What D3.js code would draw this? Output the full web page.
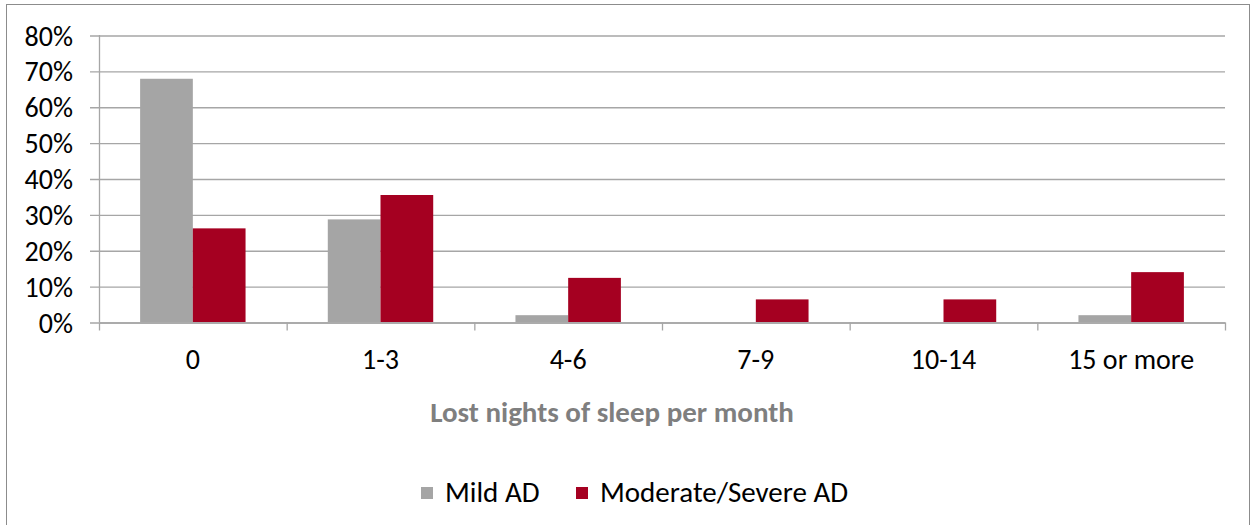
<!DOCTYPE html>
<head>
 <script src="https://cdnjs.cloudflare.com/ajax/libs/d3/7.8.5/d3.min.js"></script>
 <title>Lost nights of sleep</title>
</head>

<style>
body{
  margin: 0;
  background-color: white;
}
text{
  font-family: Carlito, Calibri, Lato, "Open Sans", sans-serif;
}
</style>

<body>
 <div id="chart"></div>
</body>

<script type="text/javascript">
 var categories = ["0", "1-3", "4-6", "7-9", "10-14", "15 or more"];
 var series = ["Mild AD", "Moderate/Severe AD"];
 var mild = [67.8, 28.6, 1.9, 0, 0, 1.9];
 var severe = [26.1, 35.4, 12.3, 6.3, 6.3, 13.9];
 var yTicks = [0, 10, 20, 30, 40, 50, 60, 70, 80];
 var colors = ["#A5A5A5", "#A50021"];

 var props = {
   width: 1253,
   height: 525,
   left: 99,
   right: 1225,
   top: 35,
   bottom: 322,
   fontSize: "28px"
 }

 var svg = d3.select("#chart").append("svg")
   .attr("width", props.width).attr("height", props.height);

 // outer chart border
 svg.append("rect")
   .attr("x", 6.5).attr("y", 4.5)
   .attr("width", 1243).attr("height", 530)
   .attr("fill", "none").attr("stroke", "#8c8c8c").attr("stroke-width", 1);

 var x = d3.scaleBand().domain(categories).range([props.left, props.right]).paddingInner(0).paddingOuter(0);
 var y = d3.scaleLinear().domain([0, 80]).range([props.bottom, props.top]);

 // gridlines + y labels
 var yAxis = d3.axisLeft(y).tickValues(yTicks).tickFormat(function(d){ return d + "%"; })
   .tickSize(-(props.right - props.left) - 9);
 var gy = svg.append("g").attr("transform", "translate(" + (props.left - 9) + ",0)").call(yAxis);
 gy.select(".domain").remove();
 gy.selectAll(".tick line").attr("stroke", "#a6a6a6").attr("stroke-width", 1.3)
   .attr("transform", "translate(0,0.5)");
 gy.selectAll(".tick text").attr("font-size", props.fontSize).attr("fill", "#000").attr("x", -17).attr("dy", "0.36em");

 // y axis line
 svg.append("line")
   .attr("x1", props.left + 0.5).attr("x2", props.left + 0.5)
   .attr("y1", props.top).attr("y2", props.bottom)
   .attr("stroke", "#a6a6a6").attr("stroke-width", 1.3);

 // bars
 var inner = d3.scaleBand().domain(series).range([0, x.bandwidth()]).paddingOuter(0.78).paddingInner(0);
 var data = categories.map(function(c, i){ return {cat: c, vals: [mild[i], severe[i]]}; });
 var groups = svg.selectAll("g.cat").data(data).enter().append("g")
   .attr("class", "cat")
   .attr("transform", function(d){ return "translate(" + x(d.cat) + ",0)"; });
 groups.selectAll("rect").data(function(d){ return d.vals.map(function(v, j){ return {s: series[j], v: v, j: j}; }); })
   .enter().append("rect")
   .attr("x", function(d){ return inner(d.s); })
   .attr("width", inner.bandwidth())
   .attr("y", function(d){ return y(d.v); })
   .attr("height", function(d){ return y(0) - y(d.v); })
   .attr("fill", function(d){ return colors[d.j]; });

 // x axis
 var xAxis = d3.axisBottom(x).tickSize(0).tickPadding(0);
 var gx = svg.append("g").attr("transform", "translate(0," + (props.bottom + 0.5) + ")").call(xAxis);
 gx.select(".domain").attr("stroke", "#a6a6a6").attr("stroke-width", 1.3);
 gx.selectAll(".tick text").attr("font-size", props.fontSize).attr("fill", "#000")
   .attr("y", 36).attr("dy", "0.36em");
 var bounds = categories.map(function(c){ return x(c); }).concat([props.right]);
 gx.selectAll("line.sep").data(bounds).enter().append("line")
   .attr("class", "sep")
   .attr("x1", function(d){ return d + 0.5; }).attr("x2", function(d){ return d + 0.5; })
   .attr("y1", 0).attr("y2", 8)
   .attr("stroke", "#a6a6a6").attr("stroke-width", 1.3);

 // axis title
 svg.append("text")
   .attr("x", 612).attr("y", 412).attr("dy", "0.36em")
   .attr("text-anchor", "middle")
   .attr("font-size", "29px").attr("font-weight", "bold").attr("fill", "#7f7f7f")
   .text("Lost nights of sleep per month");

 // legend
 var legendX = [421, 576];
 var lg = svg.selectAll("g.legend").data(series).enter().append("g")
   .attr("class", "legend")
   .attr("transform", function(d, i){ return "translate(" + legendX[i] + ",487)"; });
 lg.append("rect").attr("width", 12).attr("height", 12)
   .attr("fill", function(d, i){ return colors[i]; });
 lg.append("text").attr("x", 24).attr("y", 5).attr("dy", "0.36em")
   .attr("font-size", "29px").attr("fill", "#000")
   .text(function(d){ return d; });
</script>
